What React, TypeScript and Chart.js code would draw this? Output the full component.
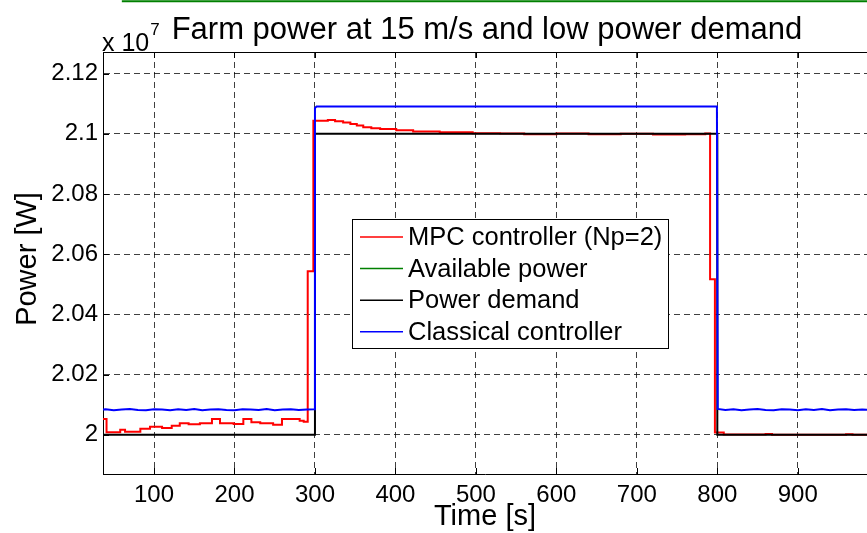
import React, { useEffect, useRef } from "react";
import { Chart, registerables } from "chart.js";

Chart.register(...registerables);

const FONT = '"Liberation Sans", Arial, Helvetica, sans-serif';

const TITLE = "Farm power at 15 m/s and low power demand";
const X_LABEL = "Time [s]";
const Y_LABEL = "Power [W]";
const Y_EXP_BASE = "x 10";
const Y_EXP_POWER = "7";

const X_TICKS = [100, 200, 300, 400, 500, 600, 700, 800, 900];
const Y_TICKS = [2, 2.02, 2.04, 2.06, 2.08, 2.1, 2.12];
const X_MIN = 36.6;
const X_MAX = 986;
const Y_MIN = 1.987;
const Y_MAX = 2.1272;

const SERIES_LABELS = [
  "MPC controller (Np=2)",
  "Available power",
  "Power demand",
  "Classical controller",
];
const SERIES_COLORS = ["#ff0000", "#008000", "#000000", "#0000ff"];

// values in units of 1e7 W
const MPC_T = [
  30, 41, 58, 64, 83, 95, 110, 122, 132, 143, 157, 172, 182, 199, 211, 221,
  232, 248, 259, 281, 286, 291, 298, 316, 325, 335, 344, 352, 360, 370, 381,
  401, 422, 455, 496, 530, 560, 600, 640, 680, 720, 760, 785, 791, 797, 808,
  860, 868, 960, 968, 990,
];
const MPC_P = [
  2.0053, 2.0009, 2.0017, 2.001, 2.002, 2.0027, 2.0023, 2.003, 2.0039, 2.0035,
  2.0039, 2.0053, 2.0039, 2.0036, 2.0053, 2.0042, 2.0039, 2.0034, 2.0053,
  2.0047, 2.0044, 2.0544, 2.1044, 2.1046, 2.1042, 2.1038, 2.1033, 2.1028,
  2.1022, 2.1019, 2.1016, 2.1012, 2.1008, 2.1005, 2.1002, 2.1001, 2.0999,
  2.1001, 2.0999, 2.1, 2.0998, 2.0999, 2.1001, 2.0517, 2.0008, 2.0001, 2.0003,
  2.0, 2.0002, 2.0, 2.0,
];

const AVAIL_T = [60, 990];
const AVAIL_P = [2.1441, 2.1441];

const DEMAND_T = [30, 300, 800, 990];
const DEMAND_P = [2.0, 2.1, 2.0, 2.0];

const CLASSIC_T = [
  30, 40, 50, 60, 70, 80, 90, 100, 110, 120, 130, 140, 150, 160, 170, 180, 190,
  200, 210, 220, 230, 240, 250, 260, 270, 280, 290, 299, 300, 302, 400, 500,
  600, 700, 799.5, 800.5, 810, 820, 830, 840, 850, 860, 870, 880, 890, 900,
  910, 920, 930, 940, 950, 960, 970, 980, 990,
];
const CLASSIC_P = [
  2.0083, 2.0085, 2.0082, 2.0084, 2.0086, 2.0083, 2.0082, 2.0085, 2.0084,
  2.0082, 2.0085, 2.0083, 2.0086, 2.0082, 2.0084, 2.0085, 2.0083, 2.0082,
  2.0085, 2.0084, 2.0083, 2.0086, 2.0082, 2.0084, 2.0085, 2.0083, 2.0084,
  2.0085, 2.1086, 2.1091, 2.1091, 2.1091, 2.1091, 2.1091, 2.1091, 2.0086,
  2.0083, 2.0085, 2.0082, 2.0084, 2.0086, 2.0083, 2.0082, 2.0085, 2.0084,
  2.0082, 2.0085, 2.0083, 2.0086, 2.0082, 2.0084, 2.0085, 2.0083, 2.0084,
  2.0083,
];

const toPts = (t: number[], p: number[]) => t.map((x, i) => ({ x, y: p[i] }));

const fmtY = (v: number) => String(Number(v.toFixed(2)));

const matlabPlugin = {
  id: "matlabDecor",
  afterDraw(chart: any) {
    const { ctx, chartArea, scales } = chart;
    const xs = scales.x;
    const ys = scales.y;
    ctx.save();
    // top border
    ctx.strokeStyle = "#000";
    ctx.lineWidth = 1;
    ctx.setLineDash([]);
    ctx.beginPath();
    ctx.moveTo(chartArea.left, Math.round(chartArea.top) + 0.5);
    ctx.lineTo(chartArea.right, Math.round(chartArea.top) + 0.5);
    ctx.stroke();
    // inward ticks
    const TL = 6;
    ctx.beginPath();
    X_TICKS.forEach((t) => {
      const px = Math.round(xs.getPixelForValue(t)) + 0.5;
      ctx.moveTo(px, chartArea.bottom);
      ctx.lineTo(px, chartArea.bottom - TL);
      ctx.moveTo(px, chartArea.top);
      ctx.lineTo(px, chartArea.top + TL);
    });
    Y_TICKS.forEach((v) => {
      const py = Math.round(ys.getPixelForValue(v)) + 0.5;
      ctx.moveTo(chartArea.left, py);
      ctx.lineTo(chartArea.left + TL, py);
    });
    ctx.stroke();

    // title
    ctx.fillStyle = "#000";
    ctx.font = `31px ${FONT}`;
    ctx.textAlign = "center";
    ctx.textBaseline = "alphabetic";
    ctx.fillText(TITLE, 487, 39);

    // exponent
    ctx.textAlign = "left";
    ctx.font = `25px ${FONT}`;
    ctx.fillText(Y_EXP_BASE, 102, 51);
    const w = ctx.measureText(Y_EXP_BASE).width;
    ctx.font = `17px ${FONT}`;
    ctx.fillText(Y_EXP_POWER, 102 + w + 1, 35);

    // axis titles
    ctx.font = `29px ${FONT}`;
    ctx.textAlign = "center";
    ctx.textBaseline = "middle";
    ctx.fillText(X_LABEL, 485, 517);
    ctx.save();
    ctx.translate(28, 259);
    ctx.rotate(-Math.PI / 2);
    ctx.fillText(Y_LABEL, 0, 0);
    ctx.restore();

    // legend
    const bx = 352.5, by = 219.5, bw = 316, bh = 129;
    ctx.fillStyle = "#fff";
    ctx.fillRect(bx, by, bw, bh);
    ctx.strokeStyle = "#000";
    ctx.lineWidth = 1;
    ctx.strokeRect(bx, by, bw, bh);
    ctx.font = `25.5px ${FONT}`;
    ctx.textAlign = "left";
    ctx.textBaseline = "middle";
    SERIES_LABELS.forEach((lab, i) => {
      const y = 237 + i * 31.6;
      ctx.strokeStyle = SERIES_COLORS[i];
      ctx.lineWidth = 1.5;
      ctx.beginPath();
      ctx.moveTo(360, y);
      ctx.lineTo(403, y);
      ctx.stroke();
      ctx.fillStyle = "#000";
      ctx.fillText(lab, 408, y + 1);
    });
    ctx.restore();
  },
};

export default function App() {
  const ref = useRef<HTMLCanvasElement | null>(null);
  useEffect(() => {
    if (!ref.current) return;
    const datasets = [
      {
        label: SERIES_LABELS[0],
        data: toPts(MPC_T, MPC_P),
        borderColor: SERIES_COLORS[0],
        borderWidth: 2,
        stepped: "before" as const,
        order: 3,
      },
      {
        label: SERIES_LABELS[1],
        data: toPts(AVAIL_T, AVAIL_P),
        borderColor: SERIES_COLORS[1],
        borderWidth: 2,
        clip: false as any,
        order: 2,
      },
      {
        label: SERIES_LABELS[2],
        data: toPts(DEMAND_T, DEMAND_P),
        borderColor: SERIES_COLORS[2],
        borderWidth: 2,
        stepped: "before" as const,
        order: 1,
      },
      {
        label: SERIES_LABELS[3],
        data: toPts(CLASSIC_T, CLASSIC_P),
        borderColor: SERIES_COLORS[3],
        borderWidth: 2,
        order: 0,
      },
    ];
    const chart = new Chart(ref.current, {
      type: "line",
      data: { datasets: datasets as any },
      options: {
        animation: false,
        responsive: false,
        events: [],
        elements: { point: { radius: 0 }, line: { tension: 0, fill: false } },
        layout: { padding: { top: 52, left: 0, right: 0, bottom: 0 } },
        plugins: { legend: { display: false }, title: { display: false }, tooltip: { enabled: false } },
        scales: {
          x: {
            type: "linear",
            min: X_MIN,
            max: X_MAX,
            afterBuildTicks: (s: any) => {
              s.ticks = X_TICKS.map((v) => ({ value: v }));
            },
            afterFit: (s: any) => {
              s.height = 59;
            },
            grid: { color: "rgba(0,0,0,0.75)", lineWidth: 1, drawTicks: false },
            border: { display: true, color: "#000", width: 1, dash: [6, 4] },
            ticks: {
              color: "#000",
              font: { family: FONT, size: 24 },
              padding: 7,
              maxRotation: 0,
              autoSkip: false,
              callback: (v: any) => String(v),
            },
          },
          y: {
            type: "linear",
            min: Y_MIN,
            max: Y_MAX,
            afterBuildTicks: (s: any) => {
              s.ticks = Y_TICKS.map((v) => ({ value: v }));
            },
            afterFit: (s: any) => {
              s.width = 103;
            },
            grid: { color: "rgba(0,0,0,0.75)", lineWidth: 1, drawTicks: false },
            border: { display: true, color: "#000", width: 1, dash: [6, 4] },
            ticks: {
              color: "#000",
              font: { family: FONT, size: 24 },
              padding: 5,
              autoSkip: false,
              callback: (v: any) => fmtY(Number(v)),
            },
          },
        },
      },
      plugins: [matlabPlugin],
    });
    return () => chart.destroy();
  }, []);
  return (
    <div style={{ position: "fixed", left: 0, top: 0, width: 867, height: 533, background: "#fff" }}>
      <canvas ref={ref} width={867} height={533} style={{ display: "block" }} />
    </div>
  );
}
